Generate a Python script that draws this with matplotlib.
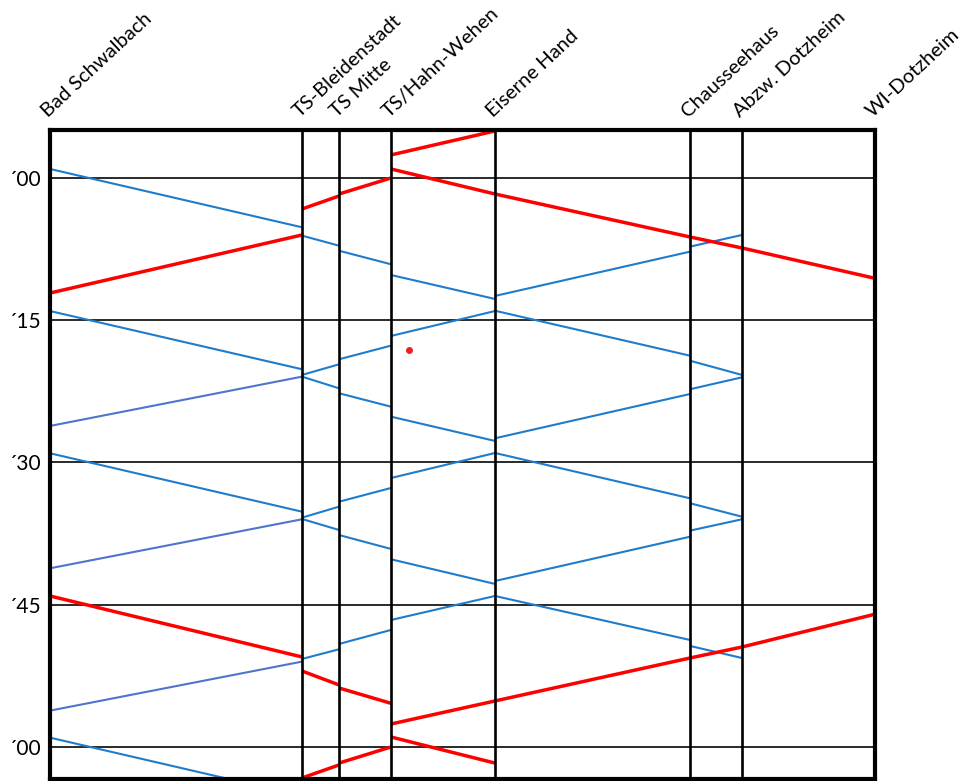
import matplotlib
matplotlib.use("Agg")
import matplotlib.pyplot as plt
from matplotlib.transforms import blended_transform_factory

plt.rcParams['font.family'] = ['Lato', 'DejaVu Sans']

# ========== Stations (position along the line, chart units) ==========
stations = ["Bad Schwalbach", "TS-Bleidenstadt", "TS Mitte", "TS/Hahn-Wehen",
            "Eiserne Hand", "Chausseehaus", "Abzw. Dotzheim", "WI-Dotzheim"]
station_pos = [0, 252, 289, 341, 445, 640, 692, 825]

# ========== Time axis (minutes after the full hour) ==========
hour_ticks = [0, 15, 30, 45, 60]
hour_labels = ["´00", "´15", "´30", "´45", "´00"]

# ========== Timetable: (station index, arrival, departure) in minutes ==========
# red trains
red_w1 = [(4, None, -4.96), (3, -2.43, 0.0), (2, 1.69, 1.9), (1, 3.27, 6.01), (0, 12.13, None)]
red_e1 = [(3, None, -0.95), (4, 1.69, 1.69), (5, 6.22, 6.22), (6, 7.38, 7.38), (7, 10.58, None)]
red_e2 = [(0, None, 44.08), (1, 50.51, 51.99), (2, 53.46, 53.78), (3, 55.4, 58.95), (4, 61.7, None)]
red_w2 = [(7, None, 46.0), (6, 49.46, 49.46), (5, 50.62, 50.62), (4, 55.15, 55.15),
          (3, 57.58, 60.0), (2, 61.7, 61.9), (1, 63.27, None)]

# blue trains
blue_a1 = [(0, None, -0.95), (1, 5.2, 6.08), (2, 7.14, 7.67), (3, 9.1, 10.23),
           (4, 12.76, 14.0), (5, 18.74, 19.27), (6, 20.77, None)]
blue_a2 = [(6, None, 21.02), (5, 22.28, 22.78), (4, 27.45, 29.0), (3, 31.64, 32.69),
           (2, 34.14, 34.66), (1, 35.82, 35.99), (0, 41.16, None)]
blue_b = [(6, None, 6.01), (5, 7.24, 7.77), (4, 12.44, 14.03), (3, 16.66, 17.68),
          (2, 19.12, 19.65), (1, 20.77, 20.95), (0, 26.15, None)]
blue_c1 = [(0, None, 14.03), (1, 20.17, 20.95), (2, 22.18, 22.7), (3, 24.12, 25.17),
           (4, 27.73, 29.0), (5, 33.78, 34.3), (6, 35.72, None)]
blue_c2 = [(6, None, 35.99), (5, 37.19, 37.83), (4, 42.5, 44.08), (3, 46.61, 47.66),
           (2, 49.14, 49.7), (1, 50.72, 51.0), (0, 56.17, None)]
blue_d = [(0, None, 29.03), (1, 35.19, 35.96), (2, 37.12, 37.65), (3, 39.12, 40.21),
          (4, 42.81, 44.08), (5, 48.72, 49.35), (6, 50.62, None)]
blue_e = [(0, None, 59.02), (1, 65.17, None)]

red_trips = [red_w1, red_e1, red_e2, red_w2]
blue_trips = [blue_a1, blue_a2, blue_b, blue_c1, blue_c2, blue_d, blue_e]

# single marker between Hahn-Wehen and Eiserne Hand
dot_pos = [359]
dot_time = [18.14]

fig = plt.figure(figsize=(9.73, 7.81), dpi=100)
ax = fig.add_axes([50 / 973, 2 / 781, 825 / 973, 649 / 781])


def draw_trip(stops, color, lw, last_color=None):
    # one segment per run between two stops (dwell is hidden on the station line)
    for (s0, a0, d0), (s1, a1, d1) in zip(stops[:-1], stops[1:]):
        c = last_color if (last_color and s1 == 0) else color
        ax.plot([station_pos[s0], station_pos[s1]], [d0, a1], color=c, lw=lw,
                solid_capstyle="butt", zorder=3)


for trip in blue_trips:
    draw_trip(trip, "#1f7ccc", 1.5, last_color="#4f74cc")
for trip in red_trips:
    draw_trip(trip, "#ff0000", 2.5)

ax.scatter(dot_pos, dot_time, s=16, color="#ee2222", zorder=5)

# grid: hours / station lines
for t in hour_ticks:
    ax.axhline(t, color="#2a2a2a", lw=1.4, zorder=1)
for x in station_pos[1:-1]:
    ax.axvline(x, color="black", lw=1.9, zorder=4)

ax.set_xlim(0, 825)
ax.set_ylim(63.38, -5.06)
for sp in ax.spines.values():
    sp.set_linewidth(3)
    sp.set_zorder(6)

ax.set_xticks([])
ax.set_yticks(hour_ticks)
ax.set_yticklabels(hour_labels, fontsize=15)
ax.tick_params(axis="y", length=0, pad=6)

# station names, rotated above the frame
trans = blended_transform_factory(ax.transData, ax.transAxes)
for name, x in zip(stations, station_pos):
    ax.text(x - 2, 1.018, name, transform=trans, rotation=43, rotation_mode="anchor",
            ha="left", va="baseline", fontsize=14.5)

fig.savefig("out.png", dpi=100)
